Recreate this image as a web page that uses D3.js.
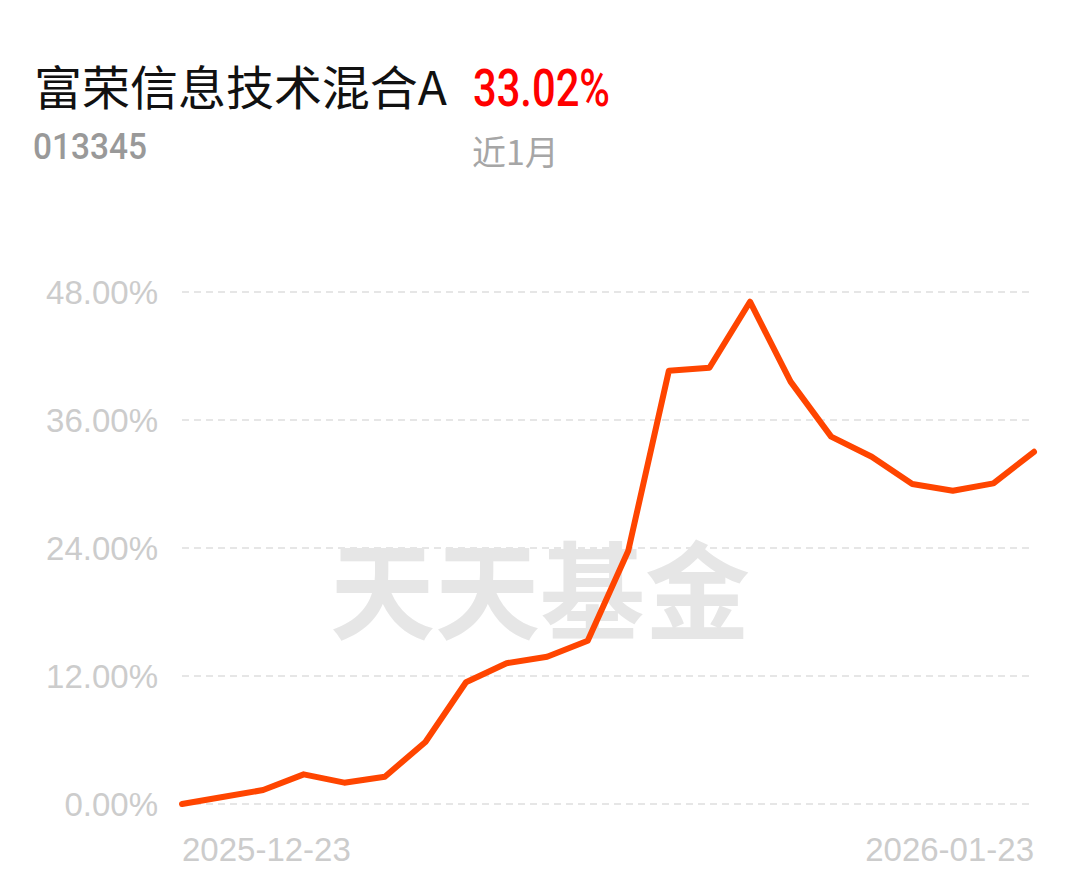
<!DOCTYPE html>
<html>
<head>
<meta charset="utf-8">
<script src="https://cdn.jsdelivr.net/npm/d3@7"></script>
<style>
  body { margin: 0; background: #fff; }
  svg { display: block; }
</style>
</head>
<body>
<div id="chart"></div>
<script>
// fund info
const fundName = '富荣信息技术混合A';
const fundCode = '013345';
const periodLabel = '近1月';
const periodReturn = '33.02%';

// trading days in the period
const dates = [
  '2025-12-23', '2025-12-24', '2025-12-25', '2025-12-26', '2025-12-29', '2025-12-30',
  '2025-12-31', '2026-01-05', '2026-01-06', '2026-01-07', '2026-01-08', '2026-01-09',
  '2026-01-12', '2026-01-13', '2026-01-14', '2026-01-15', '2026-01-16', '2026-01-19',
  '2026-01-20', '2026-01-21', '2026-01-22', '2026-01-23'
];
// cumulative return, %
const returns = [
  0, 0.65, 1.31, 2.78, 2.0, 2.56, 5.81, 11.41, 13.2, 13.81, 15.31,
  23.75, 40.62, 40.9, 47.09, 39.6, 34.44, 32.56, 30.0, 29.37, 30.06, 33.02
];
const yTicks = [0, 12, 24, 36, 48];
const xTickLabels = ['2025-12-23', '2026-01-23'];

const width = 1080;
const height = 881;

const svg = d3
  .select('#chart')
  .append('svg')
  .attr('width', width)
  .attr('height', height);

const x = d3.scalePoint().domain(dates).range([182, 1034]);
const y = d3.scaleLinear().domain([0, 48]).range([804, 292]);

// header
svg
  .append('text')
  .attr('x', 34)
  .attr('y', 105)
  .attr('textLength', 413)
  .attr('lengthAdjust', 'spacingAndGlyphs')
  .style('font-family', '"Noto Sans CJK SC", sans-serif')
  .style('font-size', '47px')
  .attr('fill', '#111')
  .text(fundName);

svg
  .append('text')
  .attr('x', 473)
  .attr('y', 106)
  .attr('textLength', 137)
  .attr('lengthAdjust', 'spacingAndGlyphs')
  .style('font-family', 'Roboto, sans-serif')
  .style('font-weight', 500)
  .style('font-size', '51px')
  .attr('fill', '#f00')
  .text(periodReturn);

svg
  .append('text')
  .attr('x', 33)
  .attr('y', 159)
  .attr('textLength', 114)
  .attr('lengthAdjust', 'spacingAndGlyphs')
  .style('font-family', 'Roboto, sans-serif')
  .style('font-weight', 500)
  .style('font-size', '37px')
  .attr('fill', '#999')
  .text(fundCode);

svg
  .append('text')
  .attr('x', 472)
  .attr('y', 165)
  .style('font-family', '"Noto Sans CJK SC", sans-serif')
  .style('font-size', '34px')
  .attr('fill', '#a6a6a6')
  .text(periodLabel);

// watermark
svg
  .append('text')
  .attr('x', 540)
  .attr('y', 631)
  .attr('text-anchor', 'middle')
  .attr('textLength', 420)
  .attr('lengthAdjust', 'spacingAndGlyphs')
  .style('font-family', '"Noto Sans CJK SC", sans-serif')
  .style('font-weight', 700)
  .style('font-size', '106px')
  .attr('fill', '#e6e6e6')
  .text('天天基金');

// grid
svg
  .append('g')
  .selectAll('line')
  .data(yTicks)
  .join('line')
  .attr('x1', 182)
  .attr('x2', 1030)
  .attr('y1', (d) => y(d))
  .attr('y2', (d) => y(d))
  .attr('stroke', '#e6e6e6')
  .attr('stroke-width', 2)
  .attr('stroke-dasharray', '7,5');

// y labels
svg
  .append('g')
  .style('font-family', '"Liberation Sans", Arial, sans-serif')
  .style('font-size', '33px')
  .attr('fill', '#cccccc')
  .attr('text-anchor', 'end')
  .selectAll('text')
  .data(yTicks)
  .join('text')
  .attr('x', 158)
  .attr('y', (d) => y(d))
  .attr('dy', '0.36em')
  .text((d) => d.toFixed(2) + '%');

// x labels
svg
  .append('g')
  .style('font-family', '"Liberation Sans", Arial, sans-serif')
  .style('font-size', '33px')
  .attr('fill', '#cccccc')
  .selectAll('text')
  .data(xTickLabels)
  .join('text')
  .attr('x', (d) => x(d))
  .attr('y', 861)
  .attr('text-anchor', (d, i) => (i === 0 ? 'start' : 'end'))
  .text((d) => d);

// line
const line = d3
  .line()
  .x((d, i) => x(dates[i]))
  .y((d) => y(d));

svg
  .append('path')
  .datum(returns)
  .attr('fill', 'none')
  .attr('stroke', '#ff4500')
  .attr('stroke-width', 6)
  .attr('stroke-linejoin', 'round')
  .attr('stroke-linecap', 'round')
  .attr('d', line);
</script>
</body>
</html>
